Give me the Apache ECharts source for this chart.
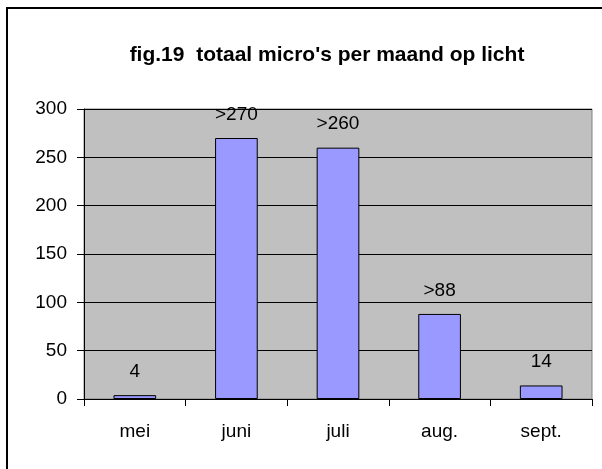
<!DOCTYPE html>
<html>
<head>
<meta charset="utf-8">
<script src="https://cdn.jsdelivr.net/npm/echarts@6/dist/echarts.min.js"></script>
<style>
  html, body { margin: 0; padding: 0; background: #fff; }
  #chart { width: 602px; height: 469px; }
</style>
</head>
<body>
<div id="chart"></div>
<script>
const months = ["mei", "juni", "juli", "aug.", "sept."];
const values = [4, 270, 260, 88, 14];
const barLabels = ["4", ">270", ">260", ">88", "14"];
const yTicks = [0, 50, 100, 150, 200, 250, 300];

const font = "Liberation Sans, Arial, sans-serif";
const myChart = echarts.init(document.getElementById("chart"));

const option = {
  animation: false,
  title: {
    text: "fig.19  totaal micro's per maand op licht",
    left: 322,
    top: 40,
    textAlign: "center",
    textStyle: { fontFamily: font, fontSize: 21, fontWeight: "bold", color: "#000" },
  },
  graphic: [
    {
      type: "rect",
      shape: { x: 7, y: 8, width: 620, height: 500 },
      style: { fill: "none", stroke: "#000", lineWidth: 2 },
      z: 100,
    },
  ],
  grid: {
    left: 84,
    top: 109,
    right: 10,
    bottom: 70,
    show: true,
    backgroundColor: "#C0C0C0",
    borderColor: "#808080",
    borderWidth: 1,
  },
  xAxis: {
    type: "category",
    data: months,
    axisLine: { lineStyle: { color: "#000", width: 1 } },
    axisTick: { show: true, alignWithLabel: false, length: 7, lineStyle: { color: "#000" } },
    axisLabel: { fontFamily: font, fontSize: 19, color: "#000", margin: 23 },
  },
  yAxis: {
    type: "value",
    min: yTicks[0],
    max: yTicks[yTicks.length - 1],
    interval: 50,
    axisLine: { show: true, lineStyle: { color: "#000", width: 1 } },
    axisTick: { show: true, length: 7, lineStyle: { color: "#000" } },
    axisLabel: { fontFamily: font, fontSize: 19, color: "#000", margin: 17 },
    splitLine: { show: true, lineStyle: { color: "#000", width: 1 } },
  },
  series: [
    {
      type: "bar",
      data: values,
      barWidth: "42%",
      itemStyle: { color: "#9999FF", borderColor: "#000", borderWidth: 1 },
      label: {
        show: true,
        position: "top",
        distance: 14,
        fontFamily: font,
        fontSize: 19,
        color: "#000",
        formatter: (p) => barLabels[p.dataIndex],
      },
    },
  ],
};

myChart.setOption(option);
</script>
</body>
</html>
